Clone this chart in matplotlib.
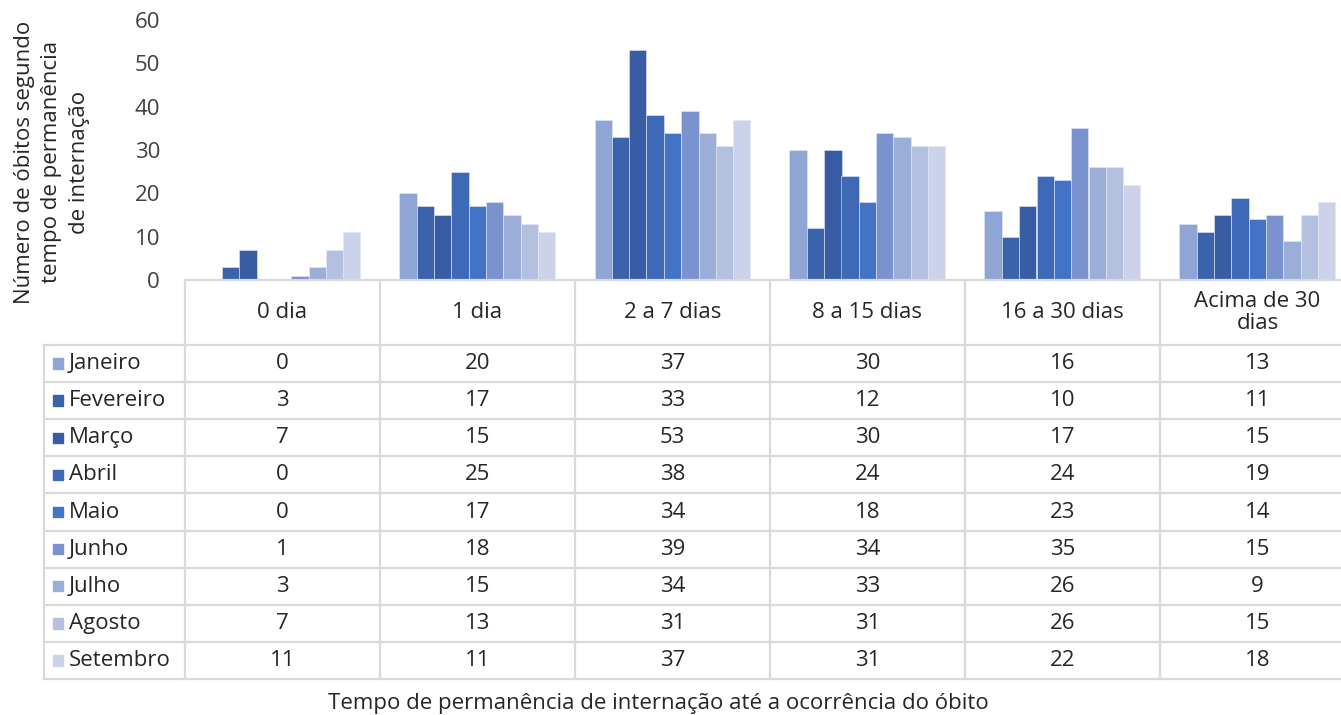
import numpy as np
import matplotlib.pyplot as plt

plt.rcParams['font.family'] = ['Open Sans', 'DejaVu Sans']

categories = ["0 dia", "1 dia", "2 a 7 dias", "8 a 15 dias", "16 a 30 dias", "Acima de 30\ndias"]
months = ["Janeiro", "Fevereiro", "Março", "Abril", "Maio", "Junho", "Julho", "Agosto", "Setembro"]

janeiro = [0, 20, 37, 30, 16, 13]
fevereiro = [3, 17, 33, 12, 10, 11]
marco = [7, 15, 53, 30, 17, 15]
abril = [0, 25, 38, 24, 24, 19]
maio = [0, 17, 34, 18, 23, 14]
junho = [1, 18, 39, 34, 35, 15]
julho = [3, 15, 34, 33, 26, 9]
agosto = [7, 13, 31, 31, 26, 15]
setembro = [11, 11, 37, 31, 22, 18]

series = [janeiro, fevereiro, marco, abril, maio, junho, julho, agosto, setembro]
colors = ["#8FA5D5", "#3A63AC", "#385DA4", "#3D69B6", "#4273C6",
          "#7A93CF", "#9AAED8", "#B3C0E0", "#CCD2EA"]

W, H = 1341, 715
fig = plt.figure(figsize=(W / 100, H / 100), dpi=100)

# pixel layout
ax_left, ax_right = 185, 1355
plot_top, plot_bot = 20, 280
tab_bot = 679
header_h = 65
label_left = 44
grid_c = "#D9D9D9"
fs = 16

ax = fig.add_axes([ax_left / W, (H - plot_bot) / H, (ax_right - ax_left) / W,
                   (plot_bot - plot_top) / H])
n_cat = len(categories)
n_ser = len(series)
x = np.arange(n_cat)
group_w = 0.8
bw = group_w / n_ser
for i, (vals, c) in enumerate(zip(series, colors)):
    ax.bar(x - group_w / 2 + bw * (i + 0.5), vals, width=bw, color=c,
           edgecolor="#E4E9F5", linewidth=0.4, label=months[i])
ax.set_xlim(-0.5, n_cat - 0.5)
ax.set_ylim(0, 60)
ax.set_yticks(range(0, 61, 10))
ax.tick_params(axis="y", length=0, pad=18, labelsize=fs, labelcolor="#404040")
ax.set_xticks([])
for s in ax.spines.values():
    s.set_visible(False)

# data table below the plot
tax = fig.add_axes([ax_left / W, (H - tab_bot) / H, (ax_right - ax_left) / W,
                    (tab_bot - plot_bot) / H])
row_h = (tab_bot - plot_bot - header_h) / n_ser
hh = header_h / row_h
tax.set_xlim(-0.5, n_cat - 0.5)
tax.set_ylim(hh + n_ser, 0)
tax.axis("off")
colw = (ax_right - ax_left) / n_cat
lab_x = -0.5 - (ax_left - label_left) / colw

lw = 1.6
tax.plot([-0.5, n_cat - 0.5], [0, 0], color=grid_c, lw=lw, clip_on=False)
for r in range(n_ser + 1):
    tax.plot([lab_x, n_cat - 0.5], [hh + r, hh + r], color=grid_c, lw=lw, clip_on=False)
tax.plot([lab_x, lab_x], [hh, hh + n_ser], color=grid_c, lw=lw, clip_on=False)
for cidx in range(n_cat + 1):
    tax.plot([cidx - 0.5, cidx - 0.5], [0, hh + n_ser], color=grid_c, lw=lw, clip_on=False)

for cidx, cat in enumerate(categories):
    tax.text(cidx, hh / 2, cat, ha="center", va="center", fontsize=fs,
             color="#262626", linespacing=1.1)

sq = 10 / colw
for r, (m, vals, c) in enumerate(zip(months, series, colors)):
    yc = hh + r + 0.5
    tax.add_patch(plt.Rectangle((lab_x + 9 / colw, yc - 0.14), sq, 0.28,
                                color=c, clip_on=False))
    tax.text(lab_x + 25 / colw, yc, m, ha="left", va="center", fontsize=fs,
             color="#262626", clip_on=False)
    for cidx, v in enumerate(vals):
        tax.text(cidx, yc, str(v), ha="center", va="center", fontsize=fs,
                 color="#262626")

fig.text(52 / W, 1 - 162 / H,
         "Número de óbitos segundo\ntempo de permanência\nde internação",
         rotation=90, ha="center", va="center", fontsize=fs, color="#262626",
         linespacing=1.4)
fig.text(658 / W, 1 - 704 / H,
         "Tempo de permanência de internação até a ocorrência do óbito",
         ha="center", va="center", fontsize=fs, color="#262626")

fig.savefig("out.png", dpi=100)
